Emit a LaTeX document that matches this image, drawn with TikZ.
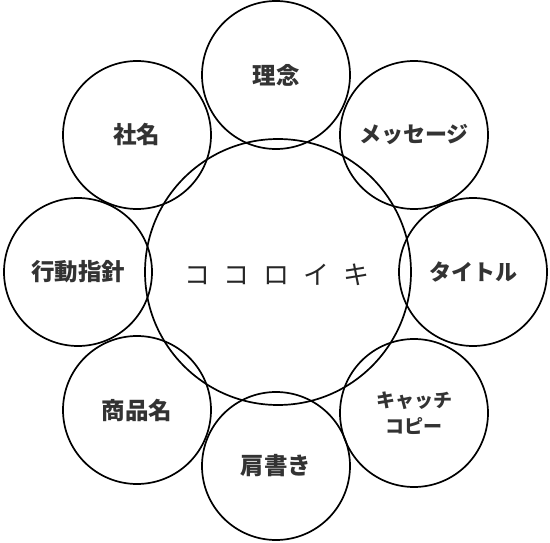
\documentclass[tikz,border=0pt]{standalone}
\usepackage{fontspec}
\newfontfamily\jp{Noto Sans CJK JP}
\begin{document}
\begin{tikzpicture}[x=1pt,y=-1pt,
  circ/.style={circle,draw=black,line width=1.7pt,inner sep=0pt},
  outer/.style={circ,minimum size=148pt,font=\jp\bfseries\fontsize{23.5pt}{26pt}\selectfont,align=center,text=black!80},
  kana/.style={font=\jp\bfseries\fontsize{22pt}{26pt}\selectfont},
  center/.style={circ,minimum size=266pt,text=black!85}]
\useasboundingbox (0,0) rectangle (550,543);
\node[center] (c) at (278,272) {};
\node[font=\jp\fontsize{26pt}{28pt}\selectfont,text=black!85,inner sep=0pt] (ctext) at (277,275) {コ\hspace{14pt}コ\hspace{14pt}ロ\hspace{14pt}イ\hspace{14pt}キ};
\node[outer] (rinen) at (276,75) {理念};
\node[outer,kana] (msg) at (414,135) {メッセージ};
\node[outer,kana] (title) at (473,272) {タイトル};
\node[outer,font=\jp\bfseries\fontsize{19pt}{26pt}\selectfont] (copy) at (414,413) {キャッチ\\コピー};
\node[outer] (kata) at (276,466) {肩書き};
\node[outer] (shohin) at (137,410) {商品名};
\node[outer] (kodo) at (78,272) {行動指針};
\node[outer] (sha) at (137,135) {社名};
\end{tikzpicture}
\end{document}
